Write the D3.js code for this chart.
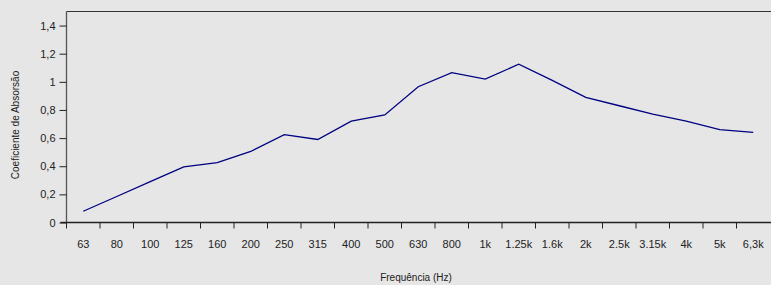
<!DOCTYPE html>
<html><head><meta charset="utf-8">
<script src="https://cdn.jsdelivr.net/npm/d3@7"></script>
<style>
html,body{margin:0;padding:0;background:#e6e6e6;}
svg{display:block;font-family:"Liberation Sans",Arial,sans-serif;}
</style></head>
<body>
<svg id="c" width="771" height="285"></svg>
<script>
const categories = ["63","80","100","125","160","200","250","315","400","500","630","800","1k","1.25k","1.6k","2k","2.5k","3.15k","4k","5k","6,3k"];
const values = [0.08,0.185,0.29,0.395,0.425,0.505,0.625,0.59,0.72,0.765,0.965,1.065,1.02,1.125,1.01,0.89,0.83,0.77,0.72,0.66,0.64];
const yTicks = [0,0.2,0.4,0.6,0.8,1,1.2,1.4];
const yTitle = "Coeficiente de Absorsão";
const xTitle = "Frequência (Hz)";

const svg = d3.select("#c");
const L = 66.5, R = 770, T = 11.5, B = 222.5;

const x = d3.scaleBand().domain(categories).range([L, R]).padding(0);
const y = d3.scaleLinear().domain([0, 1.5]).range([B, T]);

svg.append("rect").attr("width",771).attr("height",285).attr("fill","#e6e6e6");

// top border
svg.append("line").attr("x1",L).attr("x2",771).attr("y1",T).attr("y2",T)
  .attr("stroke","#333").attr("stroke-width",1);

// y axis
const fmt = d => String(d).replace(".", ",");
const ya = svg.append("g").attr("transform",`translate(${L},0)`)
  .call(d3.axisLeft(y).tickValues(yTicks).tickFormat(fmt).tickSize(7).tickPadding(4));
ya.select(".domain").attr("d",`M0,${T}V${B}`).attr("stroke","#555").attr("stroke-width",1.3);
ya.selectAll(".tick line").attr("stroke","#222");
ya.selectAll("text").attr("font-size",11).attr("fill","#222").attr("font-family","Liberation Sans, Arial, sans-serif");

// x axis with ticks at band boundaries
const xa = svg.append("g").attr("transform",`translate(0,${B})`);
xa.append("line").attr("x1",L-6).attr("x2",771).attr("stroke","#222").attr("stroke-width",1.3);
const bounds = categories.map(c => x(c)).concat([R]);
xa.selectAll("line.t").data(bounds.slice(0,-1)).enter().append("line").attr("class","t")
  .attr("x1",d=>d).attr("x2",d=>d).attr("y1",0).attr("y2",6).attr("stroke","#222");
xa.selectAll("text").data(categories).enter().append("text")
  .attr("x",d=>x(d)+x.bandwidth()/2).attr("y",25)
  .attr("text-anchor","middle").attr("font-size",11).attr("fill","#222").text(d=>d);

// line
const line = d3.line().x((d,i)=>x(categories[i])+x.bandwidth()/2).y(d=>y(d));
svg.append("path").datum(values).attr("d",line).attr("fill","none")
  .attr("stroke","#000080").attr("stroke-width",1.3);

// titles
svg.append("text").attr("transform",`translate(19,${(T+B)/2+8}) rotate(-90)`)
  .attr("text-anchor","middle").attr("font-size",10).attr("fill","#222").text(yTitle);
svg.append("text").attr("x",416).attr("y",281).attr("text-anchor","middle")
  .attr("font-size",10).attr("fill","#222").text(xTitle);
</script>
</body></html>
